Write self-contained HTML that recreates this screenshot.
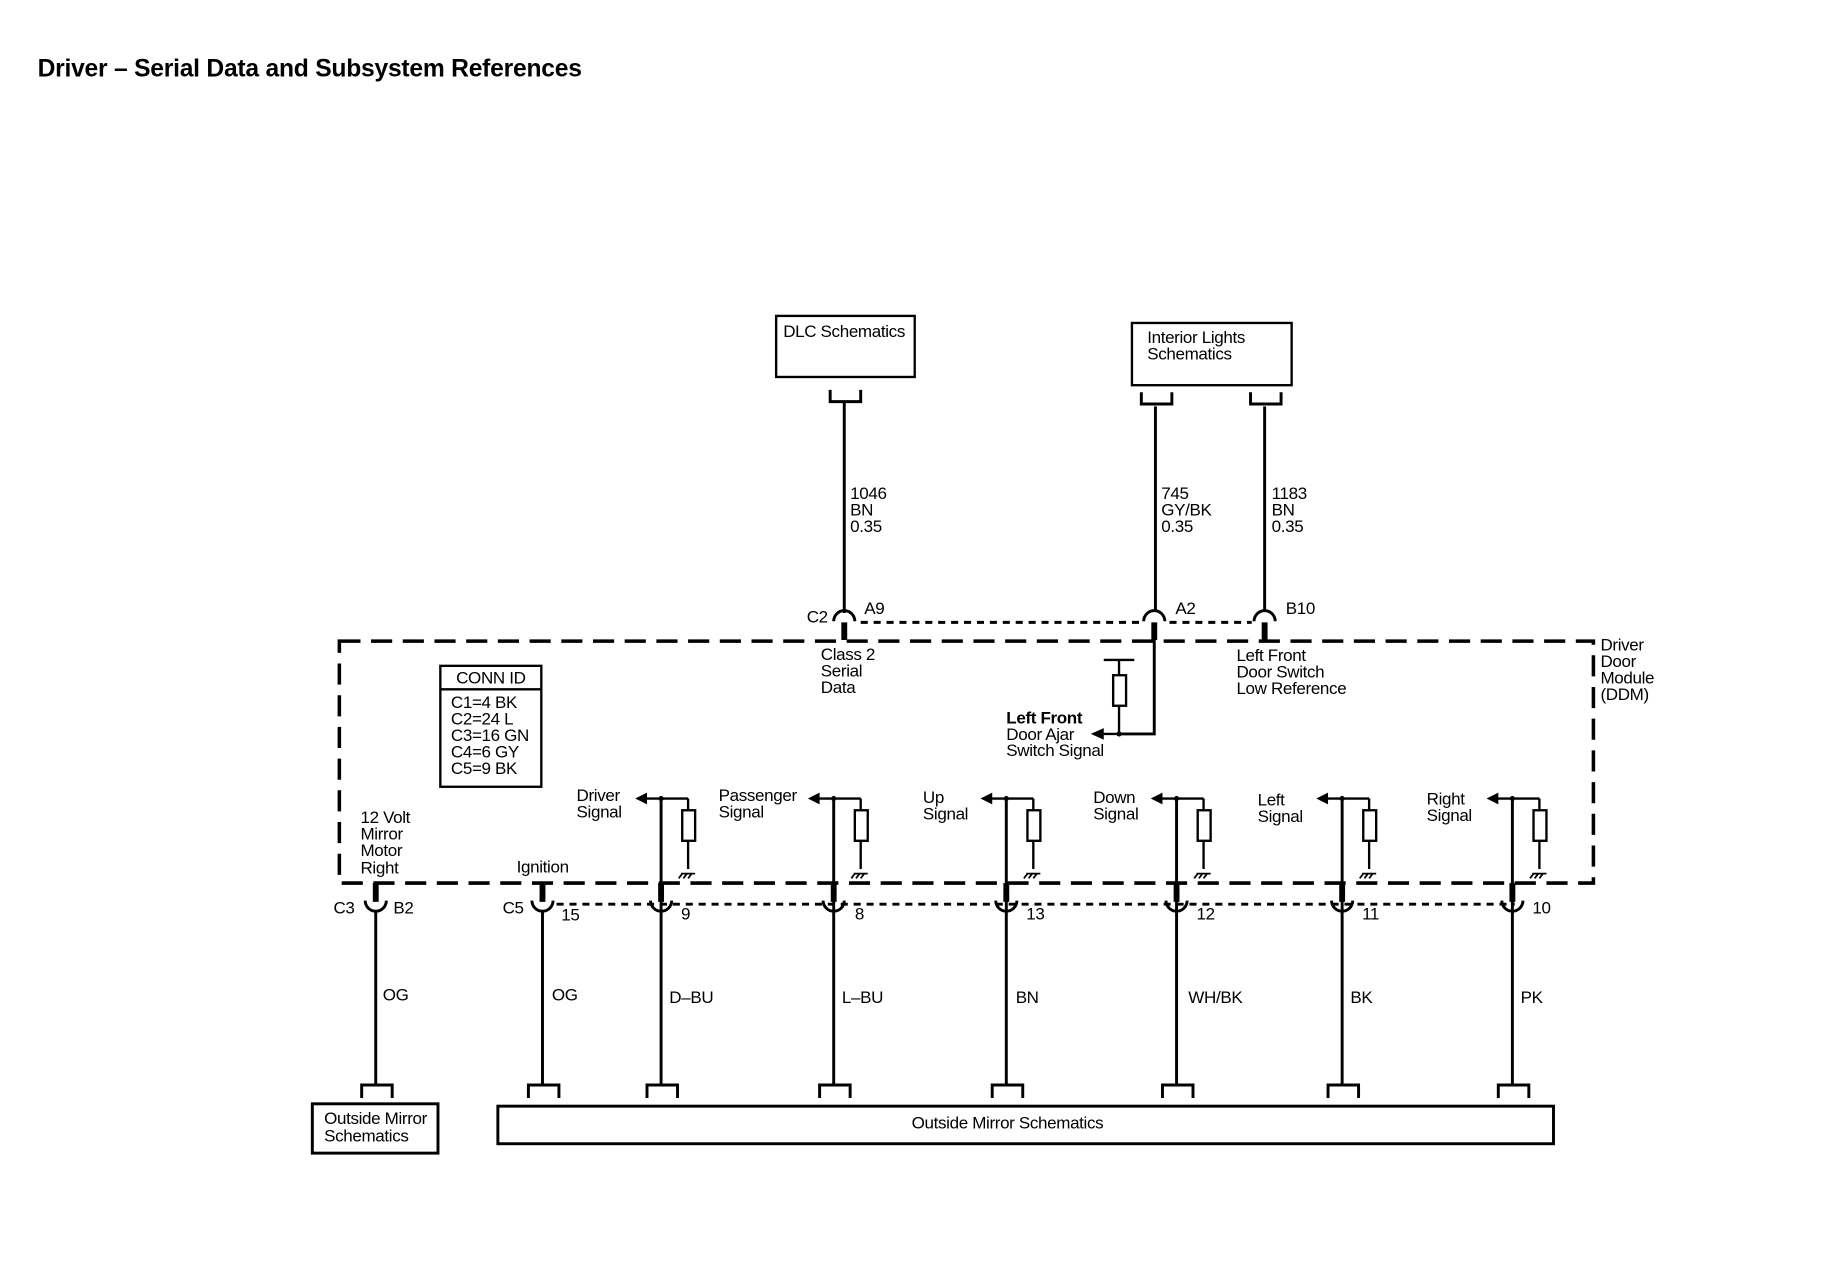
<!DOCTYPE html>
<html><head><meta charset="utf-8"><style>
html,body{margin:0;padding:0;background:#fff}
svg{display:block}
text{font-family:"Liberation Sans",sans-serif;font-size:14.5px;fill:#000;letter-spacing:-0.3px}
</style></head><body>
<svg width="1840" height="1280" viewBox="0 0 1567 1090" xmlns="http://www.w3.org/2000/svg">
<defs>
<g id="bt"><path d="M-12,332 V342 H14 V332" fill="none" stroke="#000" stroke-width="2.5"/></g>
<g id="bb"><path d="M-12,935 V924 H14 V935" fill="none" stroke="#000" stroke-width="2.5"/></g>
<g id="up"><path d="M-9,529 A9,9 0 0 1 9,529" fill="none" stroke="#000" stroke-width="2.5"/><rect x="-2.5" y="530" width="5" height="15"/></g>
<g id="dn"><rect x="-2.5" y="752" width="5" height="16"/><path d="M-9,767 A9,9 0 0 0 9,767" fill="none" stroke="#000" stroke-width="2.5"/></g>
<g id="ch">
<line x1="0" y1="680" x2="0" y2="924" stroke="#000" stroke-width="2.5"/>
<line x1="-18" y1="680" x2="23" y2="680" stroke="#000" stroke-width="2"/>
<line x1="23" y1="680" x2="23" y2="740" stroke="#000" stroke-width="2"/>
<rect x="18" y="690" width="11" height="26" fill="#fff" stroke="#000" stroke-width="2"/>
<polygon points="-22,680 -12,675 -12,685"/>
<circle cx="0" cy="680" r="2.2"/>
<path d="M17,744 H29 M18,744 l-3,4 M22,744 l-3,4 M26,744 l-3,4" stroke="#000" stroke-width="1.5"/>
<use href="#dn"/><use href="#bb"/>
</g>
</defs>
<text x="32" y="65" style="font-size:21px;font-weight:bold;letter-spacing:-0.2px">Driver – Serial Data and Subsystem References</text>

<rect x="661" y="269" width="118" height="52" fill="none" stroke="#000" stroke-width="2"/>
<text x="667" y="287">DLC Schematics</text>
<rect x="964" y="275" width="136" height="53" fill="none" stroke="#000" stroke-width="2"/>
<text x="977" y="292">Interior Lights</text><text x="977" y="306">Schematics</text>

<g transform="translate(719,0)"><use href="#bt"/><use href="#up"/></g>
<g transform="translate(984,2)"><use href="#bt"/></g>
<g transform="translate(1077,2)"><use href="#bt"/></g>
<g transform="translate(983,0)"><use href="#up"/></g>
<g transform="translate(1077,0)"><use href="#up"/></g>
<line x1="719" y1="342" x2="719" y2="522" stroke="#000" stroke-width="2.5"/>
<line x1="984" y1="346" x2="984" y2="520" stroke="#000" stroke-width="2.5"/>
<line x1="1077" y1="346" x2="1077" y2="520" stroke="#000" stroke-width="2.5"/>
<text x="724" y="425">1046</text><text x="724" y="439">BN</text><text x="724" y="453">0.35</text>
<text x="989" y="425">745</text><text x="989" y="439">GY/BK</text><text x="989" y="453">0.35</text>
<text x="1083" y="425">1183</text><text x="1083" y="439">BN</text><text x="1083" y="453">0.35</text>
<text x="687" y="530">C2</text><text x="736" y="523">A9</text><text x="1001" y="523">A2</text><text x="1095" y="523">B10</text>
<line x1="733" y1="530" x2="972" y2="530" stroke="#000" stroke-width="2.5" stroke-dasharray="6,5"/>
<line x1="996" y1="530" x2="1066" y2="530" stroke="#000" stroke-width="2.5" stroke-dasharray="6,5"/>

<rect x="289" y="546" width="1068" height="206" fill="none" stroke="#000" stroke-width="3" stroke-dasharray="18,9"/>

<text x="699" y="562">Class 2</text><text x="699" y="576">Serial</text><text x="699" y="590">Data</text>
<text x="1053" y="563">Left Front</text><text x="1053" y="577">Door Switch</text><text x="1053" y="591">Low Reference</text>
<text x="1363" y="554">Driver</text><text x="1363" y="568">Door</text><text x="1363" y="582">Module</text><text x="1363" y="596">(DDM)</text>

<path d="M983,545 V625 H953" fill="none" stroke="#000" stroke-width="2.5"/>
<line x1="953" y1="562" x2="953" y2="625" stroke="#000" stroke-width="2"/>
<line x1="940" y1="562" x2="966" y2="562" stroke="#000" stroke-width="2"/>
<rect x="948" y="575" width="11" height="26" fill="#fff" stroke="#000" stroke-width="2"/>
<line x1="953" y1="625" x2="938" y2="625" stroke="#000" stroke-width="2"/>
<polygon points="929,625 940,620 940,630"/>
<circle cx="953" cy="625" r="2.2"/>
<text x="857" y="616" style="font-weight:bold">Left Front</text><text x="857" y="630">Door Ajar</text><text x="857" y="644">Switch Signal</text>

<rect x="375" y="567" width="86" height="103" fill="none" stroke="#000" stroke-width="2"/>
<line x1="375" y1="587" x2="461" y2="587" stroke="#000" stroke-width="2"/>
<text x="418" y="582" text-anchor="middle">CONN ID</text>
<text x="384" y="603">C1=4 BK</text><text x="384" y="617">C2=24 L</text><text x="384" y="631">C3=16 GN</text><text x="384" y="645">C4=6 GY</text><text x="384" y="659">C5=9 BK</text>

<text x="307" y="701">12 Volt</text><text x="307" y="715">Mirror</text><text x="307" y="729">Motor</text><text x="307" y="744">Right</text>
<text x="440" y="743">Ignition</text>

<line x1="474" y1="770" x2="1290" y2="770" stroke="#000" stroke-width="2.5" stroke-dasharray="6,5"/>
<g transform="translate(320,0)"><use href="#dn"/><use href="#bb"/><line x1="0" y1="776" x2="0" y2="924" stroke="#000" stroke-width="2.5"/></g>
<g transform="translate(462,0)"><use href="#dn"/><use href="#bb"/><line x1="0" y1="776" x2="0" y2="924" stroke="#000" stroke-width="2.5"/></g>
<use href="#ch" transform="translate(563,0)"/>
<use href="#ch" transform="translate(710,0)"/>
<use href="#ch" transform="translate(857,0)"/>
<use href="#ch" transform="translate(1002,0)"/>
<use href="#ch" transform="translate(1143,0)"/>
<use href="#ch" transform="translate(1288,0)"/>

<text x="491" y="682">Driver</text><text x="491" y="696">Signal</text>
<text x="612" y="682">Passenger</text><text x="612" y="696">Signal</text>
<text x="786" y="684">Up</text><text x="786" y="698">Signal</text>
<text x="931" y="684">Down</text><text x="931" y="698">Signal</text>
<text x="1071" y="686">Left</text><text x="1071" y="700">Signal</text>
<text x="1215" y="685">Right</text><text x="1215" y="699">Signal</text>

<text x="284" y="778">C3</text><text x="335" y="778">B2</text>
<text x="428" y="778">C5</text><text x="478" y="784">15</text>
<text x="580" y="783">9</text><text x="728" y="783">8</text><text x="874" y="783">13</text><text x="1019" y="783">12</text><text x="1160" y="783">11</text><text x="1305" y="778">10</text>

<text x="326" y="852">OG</text><text x="470" y="852">OG</text><text x="570" y="854">D–BU</text><text x="717" y="854">L–BU</text>
<text x="865" y="854">BN</text><text x="1012" y="854">WH/BK</text><text x="1150" y="854">BK</text><text x="1295" y="854">PK</text>

<rect x="266" y="940" width="107" height="42" fill="none" stroke="#000" stroke-width="2.5"/>
<text x="276" y="957">Outside Mirror</text><text x="276" y="972">Schematics</text>
<rect x="424" y="942" width="899" height="32" fill="none" stroke="#000" stroke-width="2.5"/>
<text x="858" y="961" text-anchor="middle">Outside Mirror Schematics</text>
</svg>
</body></html>
